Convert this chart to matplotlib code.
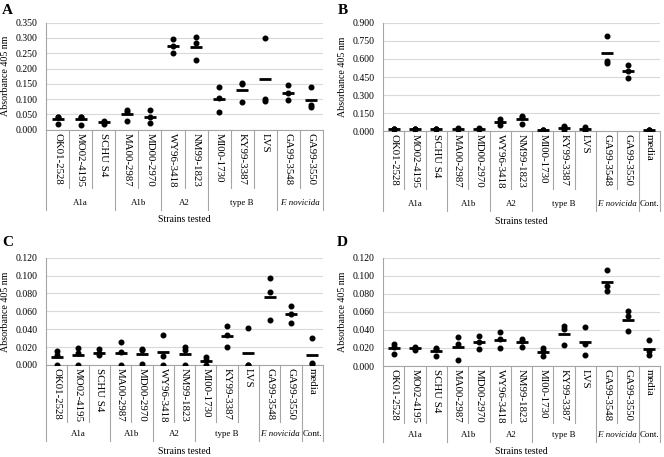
import numpy as np
import matplotlib.pyplot as plt

plt.rcParams['font.family'] = ['Liberation Serif', 'DejaVu Serif']

# Strains and groups
strains = ["OK01-2528", "MO02-4195", "SCHU S4", "MA00-2987", "MD00-2970",
           "WY96-3418", "NM99-1823", "MI00-1730", "KY99-3387", "LVS",
           "GA99-3548", "GA99-3550", "media"]
groups = ["A1a", "A1b", "A2", "type B", "F. novicida", "Cont."]
group_sizes = [3, 2, 2, 3, 2, 1]

# Replicate absorbance values (3 per strain)
panel_a = [
    [0.042, 0.020, 0.041], [0.042, 0.017, 0.043], [0.029, 0.018, 0.025],
    [0.065, 0.058, 0.027], [0.064, 0.040, 0.023], [0.298, 0.274, 0.250],
    [0.303, 0.284, 0.227], [0.140, 0.105, 0.059], [0.154, 0.149, 0.089],
    [0.301, 0.102, 0.095], [0.145, 0.120, 0.098], [0.141, 0.080, 0.075],
]
panel_b = [
    [0.020, 0.015, 0.018], [0.020, 0.016, 0.018], [0.022, 0.018, 0.020],
    [0.025, 0.020, 0.022], [0.024, 0.020, 0.022], [0.099, 0.075, 0.052],
    [0.127, 0.115, 0.064], [0.012, 0.010, 0.011], [0.040, 0.035, 0.012],
    [0.035, 0.020, 0.012], [0.787, 0.583, 0.569], [0.550, 0.503, 0.442],
    [0.014, 0.011, 0.012],
]
panel_c = [
    [0.016, 0.011, 0.000], [0.019, 0.013, 0.000], [0.0175, 0.013, 0.011],
    [0.026, 0.015, 0.000], [0.018, 0.0164, 0.0015], [0.034, 0.0104, 0.000],
    [0.0197, 0.017, 0.000], [0.009, 0.0056, 0.000], [0.044, 0.034, 0.020],
    [0.0417, 0.000, 0.000], [0.0976, 0.082, 0.050], [0.0655, 0.057, 0.0473],
    [0.030, 0.0022, 0.001],
]
panel_d = [
    [0.0243, 0.021, 0.0133], [0.021, 0.0195, 0.018], [0.0195, 0.019, 0.0114],
    [0.0317, 0.0243, 0.0066], [0.0331, 0.0269, 0.0192], [0.0376, 0.0298, 0.0199],
    [0.0302, 0.0276, 0.0214], [0.0199, 0.0169, 0.0107], [0.0442, 0.0409, 0.0228],
    [0.0427, 0.0247, 0.0125], [0.1068, 0.0884, 0.0836], [0.0604, 0.0549, 0.0383],
    [0.0287, 0.0162, 0.0118],
]

W, H = 664, 457
fig = plt.figure(figsize=(W / 100, H / 100), dpi=100)

grid_c = "#d9d9d9"
line_c = "#a6a6a6"


def draw_panel(letter, data, ymax, ystep, box, ngroups, offs, letter_pos):
    left, right, top, bottom = box
    short_px, long_px, group_px, title_px = offs
    ax = fig.add_axes([left / W, 1 - bottom / H, (right - left) / W, (bottom - top) / H])
    n = len(data)
    for i, vals in enumerate(data):
        ax.plot([i] * len(vals), vals, 'o', color='black', ms=3.3, zorder=3)
        ax.plot([i], [np.mean(vals)], '_', color='black', ms=8, mew=2.0, zorder=4)
    ax.set_xlim(-0.5, n - 0.5)
    ax.set_ylim(0, ymax)
    ticks = np.arange(0, ymax + ystep / 2, ystep)
    ax.set_yticks(ticks)
    ax.set_yticklabels([f"{t:.3f}" for t in ticks], fontsize=7)
    ax.tick_params(axis='y', length=0, pad=6)
    ax.set_xticks([])
    ax.grid(axis='y', color=grid_c, lw=0.8)
    ax.set_axisbelow(True)
    for s in ['top', 'right']:
        ax.spines[s].set_visible(False)
    for s in ['left', 'bottom']:
        ax.spines[s].set_color(line_c)
        ax.spines[s].set_linewidth(0.8)

    hpx = bottom - top
    trans = ax.get_xaxis_transform()
    sizes = group_sizes[:ngroups]
    bounds = list(np.cumsum([0] + sizes))
    for k in range(n + 1):
        y2 = -(long_px if k in bounds else short_px) / hpx
        ax.plot([k - 0.5, k - 0.5], [0, y2], color=line_c, lw=0.8,
                transform=trans, clip_on=False)
    for i in range(n):
        ax.text(i, -3 / hpx, strains[i], rotation=270, ha='center', va='top',
                fontsize=7.8, transform=trans)
    for g in range(ngroups):
        c = (bounds[g] + bounds[g + 1] - 1) / 2
        style = 'italic' if groups[g] == "F. novicida" else 'normal'
        ax.text(c, -group_px / hpx, groups[g], ha='center', va='center', fontsize=6.4,
                style=style, transform=trans)
    ax.text(0.5, -title_px / hpx, "Strains tested", ha='center', va='center',
            fontsize=7, transform=ax.transAxes)
    ax.set_ylabel("Absorbance 405 nm", fontsize=7.2, labelpad=4)
    fig.text(letter_pos[0] / W, 1 - letter_pos[1] / H, letter,
             fontsize=11, fontweight='bold', ha='left', va='center')
    return ax


top_offs = (58, 80, 73, 90)
bot_offs = (57, 76, 69, 86)
draw_panel("A", panel_a, 0.35, 0.05, (46, 323, 22.7, 129.7), 5, top_offs, (2, 10))
draw_panel("B", panel_b, 0.9, 0.15, (383, 660, 22.7, 131.3), 6, top_offs, (338, 10))
draw_panel("C", panel_c, 0.12, 0.02, (46, 323, 257.7, 365), 6, bot_offs, (2, 243))
draw_panel("D", panel_d, 0.12, 0.02, (383, 660, 257.7, 366), 6, bot_offs, (337, 243))

fig.savefig("out.png", dpi=100)
